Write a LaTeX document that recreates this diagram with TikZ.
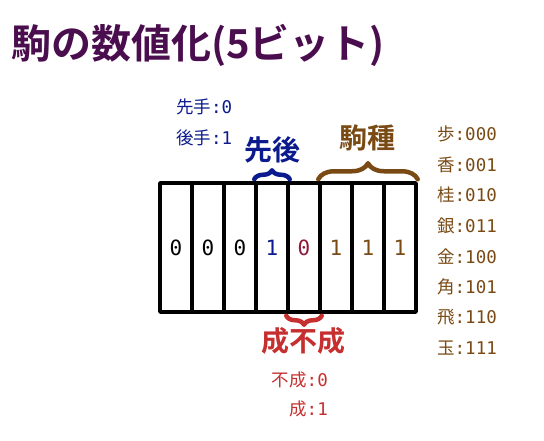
\documentclass[tikz,border=0pt]{standalone}
\usepackage{fontspec}
\usetikzlibrary{decorations.pathreplacing}
\newfontfamily\jp{Noto Sans CJK JP}
\newfontfamily\jpbold{Noto Sans CJK JP Bold}
\newfontfamily\mono{DejaVu Sans Mono}
\definecolor{titlepurple}{HTML}{4A0D4E}
\definecolor{teamblue}{HTML}{0B1A8C}
\definecolor{kindbrown}{HTML}{7A4A14}
\definecolor{promred}{HTML}{C62F2F}
\definecolor{bitred}{HTML}{8C1B3C}
\newcommand{\jpmono}[2]{{\jp #1}{\mono #2}}
\begin{document}
\begin{tikzpicture}[
		x=1pt,y=1pt,
		line cap=round,
		line join=round,
		cell/.style={draw,line width=3.5pt,minimum width=32pt,minimum height=129pt,inner sep=0pt,font=\mono\fontsize{21}{24}\selectfont},
		small/.style={inner sep=0pt,font=\fontsize{17.5}{20}\selectfont},
		head/.style={inner sep=0pt,font=\jpbold\fontsize{28}{32}\selectfont},
		curly/.style={decorate,line width=4.5pt,decoration={brace,amplitude=#1,raise=2pt}}
		]
		\useasboundingbox (0,0) rectangle (544,-440);
		\node[anchor=west,inner sep=0pt,text=titlepurple,font=\jpbold\fontsize{40}{44}\selectfont] (title) at (11,-45) {駒の数値化(5ビット)};
		% bit cells
		\foreach \b/\c [count=\i] in {0/black,0/black,0/black,1/teamblue,0/bitred,1/kindbrown,1/kindbrown,1/kindbrown}
		\node[cell,text=\c] (c\i) at (176+32*\i-32,-247.5) {\b};
		% braces
		\draw[curly=9pt,teamblue] (c4.north west) -- (c4.north east);
		\draw[curly=16pt,kindbrown] (c6.north west) -- (c8.north east);
		\draw[curly=9pt,promred] (c5.south east) -- (c5.south west);
		% labels
		\node[head,text=teamblue] (team) at (272,-150) {先後};
		\node[head,text=kindbrown] (kind) at (367,-138) {駒種};
		\node[head,text=promred] (prom) at (303,-341) {成不成};
		\node[small,anchor=west,text=teamblue] (sente) at (176,-107) {\jpmono{先手}{:0}};
		\node[small,anchor=west,text=teamblue] (gote) at (176,-138) {\jpmono{後手}{:1}};
		\node[small,anchor=east,text=promred] (funari) at (328,-380) {\jpmono{不成}{:0}};
		\node[small,anchor=east,text=promred] (nari) at (328,-409) {\jpmono{成}{:1}};
		\foreach \p/\v [count=\k] in {歩/000,香/001,桂/010,銀/011,金/100,角/101,飛/110,玉/111}
		\node[small,anchor=west,text=kindbrown] (kind\k) at (437,-134-30.6*\k+30.6) {\jpmono{\p}{:\v}};
\end{tikzpicture}
\end{document}
